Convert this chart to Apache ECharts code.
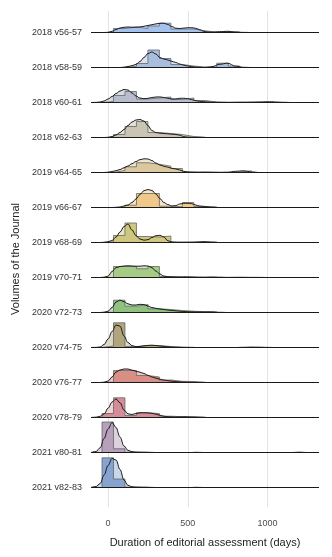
<!DOCTYPE html>
<html>
<head>
<meta charset="utf-8">
<script src="https://cdn.jsdelivr.net/npm/echarts@6/dist/echarts.min.js"></script>
<style>
html, body { margin: 0; padding: 0; background: #fff; }
#chart { width: 332px; height: 557px; }
</style>
</head>
<body>
<div id="chart"></div>
<script>
// rows, top to bottom
const volumes = [
  '2018 v56-57', '2018 v58-59', '2018 v60-61', '2018 v62-63',
  '2019 v64-65', '2019 v66-67', '2019 v68-69', '2019 v70-71',
  '2020 v72-73', '2020 v74-75', '2020 v76-77', '2020 v78-79',
  '2021 v80-81', '2021 v82-83'
]

const xTicks = [0, 500, 1000]
const xMin = -107
const xMax = 1323

// days at which the density was read
const densX = [
  -107, -75, -50, -25, 0,
  25, 50, 75, 100, 125,
  150, 175, 200, 225, 250,
  275, 300, 325, 350, 375,
  400, 425, 450, 475, 500,
  525, 550, 575, 600, 625,
  650, 700, 750, 800, 850,
  900, 950, 1000, 1050, 1100,
  1150, 1200, 1250, 1300, 1323
]

// histogram bin edges (days)
const binEdges = [-38, 34, 106, 178, 250, 322, 394, 466, 538, 610, 682, 754, 826, 898, 970, 1042, 1114]

// density heights (ridge units)
const dens_v56_57 = [0, 0, 0, 0, 0.2, 1.2, 3, 4.5, 5.2, 5.5, 5.3, 5.3, 5.6, 6.2, 7, 7.8, 8.6, 9.2, 9.3, 8, 6, 4.3, 4, 4.4, 4.8, 4.8, 4.2, 2.8, 1.2, 0.5, 0.4, 0.8, 1.2, 0.4, 0.1, 0, 0, 0, 0, 0, 0, 0, 0, 0, 0]
const dens_v58_59 = [0, 0, 0, 0, 0, 0, 0, 0, 0.3, 1, 1.8, 3.2, 6, 10, 14, 15.5, 13.5, 10, 8.5, 7.5, 6.2, 5, 3.5, 2.3, 1.5, 0.8, 0.4, 0.2, 0, 0.3, 0.8, 3.2, 4.3, 1.3, 0.2, 0, 0, 0, 0, 0, 0, 0, 0, 0, 0]
const dens_v60_61 = [0, 0.1, 0.5, 1.5, 3.5, 6, 9, 11.5, 13, 12.5, 9.5, 6.5, 4.5, 3.8, 4.2, 5, 5.5, 5.6, 5, 4.2, 3.6, 3.6, 4.2, 4.3, 3.8, 2.8, 1.8, 1.2, 0.8, 0.5, 0.3, 0.2, 0.2, 0.2, 0.2, 0.3, 0.5, 0.7, 0.5, 0.2, 0, 0, 0, 0, 0]
const dens_v62_63 = [0, 0, 0, 0, 0.2, 1, 2.5, 5, 8, 12, 15.5, 17.5, 18, 16.5, 12, 7, 5, 4.3, 4, 3.7, 3.3, 3, 2.3, 0.8, 0.3, 0.2, 0.1, 0.1, 0, 0, 0, 0, 0, 0, 0, 0, 0, 0, 0, 0, 0, 0, 0, 0, 0]
const dens_v64_65 = [0, 0, 0, 0, 0.3, 1, 1.8, 3, 4.7, 6.5, 8.8, 11, 12.8, 13.7, 13.5, 12, 9.5, 7.5, 6.2, 5.3, 4.2, 3.5, 2.5, 1.2, 0.5, 0.3, 0.2, 0.2, 0.3, 0.3, 0.2, 0.1, 0.3, 1.2, 1.7, 0.6, 0, 0, 0, 0, 0, 0, 0, 0, 0]
const dens_v66_67 = [0, 0, 0, 0, 0, 0, 0.2, 0.5, 1.5, 2.5, 5, 8.5, 13, 16.8, 18, 17, 13.5, 9, 5, 3, 1.5, 2, 3.5, 4.2, 4.2, 3.8, 2.5, 1.5, 1.2, 0.7, 0.3, 0, 0, 0, 0, 0, 0, 0, 0, 0, 0, 0, 0, 0, 0]
const dens_v68_69 = [0, 0, 0, 0.2, 0.8, 2, 5.5, 10.5, 16, 18.5, 12.5, 7, 3.5, 2.3, 2.8, 5, 6.8, 7.2, 5.5, 1.8, 0.5, 0.2, 0.1, 0.1, 0.2, 0.3, 0.4, 0.6, 0.8, 0.5, 0.2, 0, 0, 0, 0, 0, 0, 0, 0, 0, 0, 0, 0, 0, 0]
const dens_v70_71 = [0, 0, 0, 0.3, 1.3, 6, 9.8, 11, 11.5, 11.7, 11.5, 11.3, 11.3, 11.7, 11.5, 9.8, 6.5, 3.5, 1.5, 0.8, 0.6, 0.5, 0.5, 0.6, 0.6, 0.5, 0.3, 0.2, 0.2, 0.3, 0.4, 0.3, 0.1, 0.2, 0.2, 0.1, 0.1, 0, 0, 0, 0, 0, 0, 0, 0]
const dens_v72_73 = [0, 0, 0, 0.3, 1.3, 5, 10.5, 12.3, 10.8, 8.7, 7.5, 7.5, 8.2, 7.9, 6.5, 5, 4.2, 3.5, 3, 2.4, 2, 1.7, 1.3, 1, 0.8, 0.7, 0.6, 0.6, 0.6, 0.7, 0.6, 0.2, 0, 0, 0, 0, 0, 0, 0, 0, 0, 0, 0, 0, 0]
const dens_v74_75 = [0, 0.1, 0.5, 3, 8.5, 16, 22.5, 21.3, 11.5, 5, 1.9, 0.9, 1, 1.7, 2.1, 2.3, 2, 1.5, 1.1, 0.7, 0.4, 0.2, 0.1, 0, 0, 0, 0, 0, 0, 0, 0, 0, 0, 0, 0.2, 0.4, 0.3, 0.1, 0, 0, 0, 0, 0, 0, 0]
const dens_v76_77 = [0, 0, 0, 0.3, 1.5, 5.5, 10.5, 12.5, 13.5, 13.5, 12.4, 11.3, 10.3, 9, 7.2, 5.6, 4.3, 3.3, 2.5, 1.8, 1.3, 0.9, 0.6, 0.4, 0.3, 0.2, 0.1, 0, 0, 0, 0, 0, 0, 0, 0, 0, 0, 0, 0, 0, 0, 0, 0, 0, 0]
const dens_v78_79 = [0, 0.3, 1.2, 3.5, 9.3, 15.5, 18.5, 14.7, 7.5, 3.7, 3, 4, 4.7, 4.8, 4.6, 4.2, 3.3, 2.3, 1.3, 0.8, 0.6, 0.5, 0.6, 0.7, 0.6, 0.4, 0.3, 0.2, 0.1, 0, 0, 0, 0, 0, 0, 0, 0, 0, 0, 0, 0, 0, 0, 0, 0]
const dens_v80_81 = [0, 1, 4.7, 14, 23.5, 30, 25, 15.5, 6.5, 2.2, 0.8, 0.4, 0.3, 0.2, 0.2, 0.1, 0, 0, 0, 0, 0, 0, 0, 0, 0, 0, 0.2, 0.1, 0, 0, 0, 0, 0, 0, 0, 0, 0, 0, 0, 0, 0, 0.3, 0, 0, 0]
const dens_v82_83 = [0, 1, 4, 12.5, 22, 29, 27.5, 18, 7.5, 2.2, 0.7, 0.4, 0.3, 0.2, 0.2, 0.1, 0, 0, 0, 0, 0, 0, 0, 0, 0, 0, 0.2, 0.1, 0, 0, 0, 0, 0, 0, 0, 0, 0, 0, 0, 0, 0, 0, 0, 0, 0]

// histogram heights per bin (same units)
const hist_v56_57 = [0, 4, 5.5, 4, 6.5, 9.3, 3.5, 3.5, 1.7, 0.3, 1, 0.5]
const hist_v58_59 = [0, 0, 1.2, 4, 17.5, 9, 3, 1.5, 0.5, 0.5, 4.3, 1.5]
const hist_v60_61 = [1, 7, 11, 3.5, 4.5, 5.5, 3, 4.5, 2, 0.5, 0, 0.3, 0.3, 0.3, 0.7]
const hist_v62_63 = [0, 3, 11, 16, 5, 4, 3, 1, 0.3]
const hist_v64_65 = [0, 2, 5.7, 9.7, 8.3, 6.3, 4, 0.6, 0.3, 0.3, 0, 0.5, 1.7]
const hist_v66_67 = [0, 0, 2.3, 14, 14, 1.3, 0.7, 5, 1, 0.5]
const hist_v68_69 = [0.5, 7, 19.5, 6, 5.5, 6.5, 0.5, 0.3, 0.8, 0.5]
const hist_v70_71 = [0, 11, 11, 8.7, 11, 1, 0.5, 0.5, 0.3, 0.3]
const hist_v72_73 = [0.3, 12.3, 6.3, 8, 3.7, 3, 2, 1.3, 0.7, 0.5]
const hist_v74_75 = [1.5, 24.7, 1, 2, 2, 1, 0.5, 0.2]
const hist_v76_77 = [0.3, 12, 12, 7, 5.5, 2.5, 1.2, 1, 0.3]
const hist_v78_79 = [4, 19.7, 2, 4.7, 4, 1.3, 0.8, 0.8, 0.3]
const hist_v80_81 = [30.5, 3.7, 0.3, 0.2]
const hist_v82_83 = [29.7, 8.5, 0.3, 0.2]

const densities = [dens_v56_57, dens_v58_59, dens_v60_61, dens_v62_63, dens_v64_65, dens_v66_67, dens_v68_69,
  dens_v70_71, dens_v72_73, dens_v74_75, dens_v76_77, dens_v78_79, dens_v80_81, dens_v82_83]
const hists = [hist_v56_57, hist_v58_59, hist_v60_61, hist_v62_63, hist_v64_65, hist_v66_67, hist_v68_69,
  hist_v70_71, hist_v72_73, hist_v74_75, hist_v76_77, hist_v78_79, hist_v80_81, hist_v82_83]

// colours
const histColors = ['#a4c2ee', '#a9bedf', '#b7bdcc', '#c9c4b4', '#dbc8a0', '#f0c98a', '#cfc680',
  '#a6cb84', '#8fc280', '#b0a57c', '#d98e86', '#d68c97', '#b6a0bb', '#86a4cf']
const densColors = ['#cddcf3', '#d8e1f0', '#d7dbe4', '#e3e0d7', '#eee5d0', '#f5e4c5', '#e8e4c0',
  '#d3e4c3', '#c9e1c1', '#ddd8c8', '#ecc8c4', '#efd3d8', '#ddd1de', '#c8d7ec']

const rowGap = 35
const n = volumes.length

const series = []
volumes.forEach((name, i) => {
  const base = (n - 1 - i) * rowGap
  const dens = densX.map((x, k) => [x, base + densities[i][k]])
  const h = hists[i]
  const hist = [[binEdges[0], base]]
  h.forEach((v, k) => hist.push([binEdges[k], base + v]))
  hist.push([binEdges[h.length], base])

  // density fill
  series.push({
    type: 'line', data: dens, smooth: 0.4, smoothMonotone: 'x', symbol: 'none', silent: true,
    lineStyle: { width: 0, opacity: 0 },
    areaStyle: { color: densColors[i], opacity: 1, origin: base },
  })
  // histogram outline
  series.push({
    type: 'line', data: hist, step: 'end', symbol: 'none', silent: true,
    lineStyle: { color: '#666', width: 0.8 },
    areaStyle: { color: histColors[i], opacity: 1, origin: base },
  })
  // ridge baseline (flat bezier segments render faint, so draw it straight)
  series.push({
    type: 'line', data: [[xMin, base], [xMax, base]], symbol: 'none', silent: true,
    lineStyle: { color: '#1a1a1a', width: 1 },
  })
  // density curve
  series.push({
    type: 'line', data: dens, smooth: 0.4, smoothMonotone: 'x', symbol: 'none', silent: true,
    lineStyle: { color: '#1a1a1a', width: 1 },
  })
})

const chart = echarts.init(document.getElementById('chart'))
chart.setOption({
  animation: false,
  textStyle: { fontFamily: 'Liberation Sans' },
  grid: { left: 91, right: 13, top: 11, bottom: 50 },
  xAxis: {
    type: 'value',
    min: xMin,
    max: xMax,
    name: 'Duration of editorial assessment (days)',
    nameLocation: 'middle',
    nameGap: 30,
    nameTextStyle: { fontSize: 11, color: '#222' },
    axisLine: { show: false },
    axisTick: { show: false, customValues: xTicks },
    axisLabel: { customValues: xTicks, formatter: (v) => String(v), fontSize: 9, color: '#4d4d4d', margin: 12 },
    splitLine: { show: true, lineStyle: { color: '#e3e3e3', width: 1 } },
  },
  yAxis: {
    type: 'value',
    // half-pixel offset keeps the baselines crisp
    min: -19.5,
    max: 476.5,
    name: 'Volumes of the Journal',
    nameLocation: 'middle',
    nameGap: 69,
    nameTextStyle: { fontSize: 11, color: '#222' },
    axisLine: { show: false },
    axisTick: { show: false },
    splitLine: { show: false },
    axisLabel: {
      customValues: volumes.map((v, i) => (n - 1 - i) * rowGap),
      formatter: (v) => volumes[n - 1 - Math.round(v / rowGap)],
      fontSize: 9,
      color: '#333',
      margin: 9,
    },
  },
  series,
})
</script>
</body>
</html>
